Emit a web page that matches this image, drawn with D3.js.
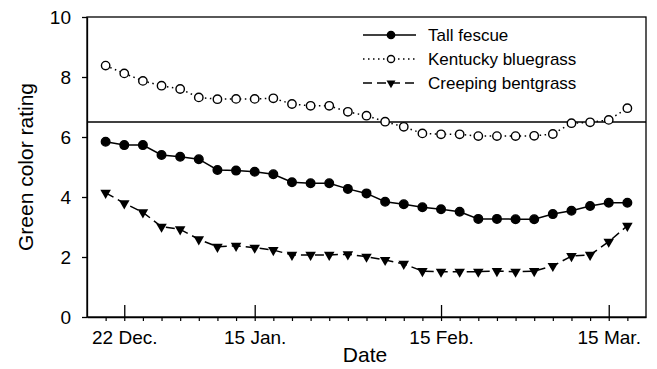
<!DOCTYPE html>
<html>
<head>
<meta charset="utf-8">
<script src="https://cdn.jsdelivr.net/npm/d3@7"></script>
<style>
  body { margin: 0; background: #fff; }
  text { font-family: "Liberation Sans", Arial, sans-serif; fill: #000; }
</style>
</head>
<body>
<svg width="657" height="369"></svg>
<script>
// sampling dates are evenly spaced, so x is just the sample index
const tickPos = [1, 8, 18, 27];
const tickLabels = ['22 Dec.', '15 Jan.', '15 Feb.', '15 Mar.'];
const yTicks = [0, 2, 4, 6, 8, 10];

const fescue = [5.84, 5.73, 5.73, 5.40, 5.34, 5.26, 4.90, 4.88, 4.84, 4.76, 4.49, 4.46, 4.46, 4.27, 4.12,
  3.84, 3.76, 3.66, 3.59, 3.51, 3.27, 3.27, 3.26, 3.26, 3.43, 3.54, 3.70, 3.81, 3.81];
const bluegrass = [8.38, 8.12, 7.87, 7.71, 7.60, 7.32, 7.26, 7.27, 7.27, 7.29, 7.10, 7.04, 7.04, 6.84, 6.71,
  6.51, 6.34, 6.12, 6.09, 6.09, 6.03, 6.03, 6.03, 6.04, 6.10, 6.46, 6.49, 6.57, 6.96];
const bentgrass = [4.14, 3.79, 3.49, 3.01, 2.92, 2.59, 2.34, 2.37, 2.31, 2.23, 2.07, 2.07, 2.07, 2.09, 2.01,
  1.90, 1.77, 1.53, 1.51, 1.51, 1.51, 1.53, 1.51, 1.53, 1.70, 2.03, 2.07, 2.51, 3.04];
const threshold = 6.5;

const series = [
  { name: 'Tall fescue', values: fescue, dash: null, marker: 'dot' },
  { name: 'Kentucky bluegrass', values: bluegrass, dash: '1.5,3.5', marker: 'open' },
  { name: 'Creeping bentgrass', values: bentgrass, dash: '9,5', marker: 'tri' }
];

const svg = d3.select('svg');
const x = d3.scaleLinear().domain([-1, 29]).range([87, 646]);
const y = d3.scaleLinear().domain([0, 10]).range([317, 17]);

// frame
svg.append('rect')
  .attr('x', x(-1)).attr('y', y(10))
  .attr('width', x(29) - x(-1)).attr('height', y(0) - y(10))
  .attr('fill', 'none').attr('stroke', '#000').attr('stroke-width', 1.3);

// reference line
svg.append('line')
  .attr('x1', x(-1)).attr('x2', x(29))
  .attr('y1', y(threshold)).attr('y2', y(threshold))
  .attr('stroke', '#000').attr('stroke-width', 1.3);

// minor ticks at every sample
svg.append('g')
  .attr('transform', `translate(0,${y(0)})`)
  .call(d3.axisBottom(x).tickValues(fescue.map((d, i) => i)).tickSize(4).tickFormat(''))
  .call(g => g.select('.domain').remove())
  .selectAll('line').attr('stroke-width', 1.2);

// major ticks + labels
const xAxis = svg.append('g')
  .attr('transform', `translate(0,${y(0)})`)
  .call(d3.axisBottom(x).tickValues(tickPos).tickSizeInner(-12).tickSizeOuter(0).tickPadding(14)
    .tickFormat((d, i) => tickLabels[i]));
xAxis.select('.domain').attr('stroke-width', 1.3);
xAxis.selectAll('line').attr('stroke-width', 1.3);
xAxis.selectAll('text').attr('font-size', 19).attr('font-family', '"Liberation Sans", Arial, sans-serif');

const yAxis = svg.append('g')
  .attr('transform', `translate(${x(-1)},0)`)
  .call(d3.axisLeft(y).tickValues(yTicks).tickSize(5).tickSizeOuter(0).tickPadding(11));
yAxis.select('.domain').attr('stroke-width', 1.3);
yAxis.selectAll('line').attr('stroke-width', 1.3);
yAxis.selectAll('text').attr('font-size', 19).attr('font-family', '"Liberation Sans", Arial, sans-serif');

svg.append('text')
  .attr('x', 365).attr('y', 362)
  .attr('text-anchor', 'middle').attr('font-size', 21)
  .text('Date');

svg.append('text')
  .attr('transform', 'translate(33,167) rotate(-90)')
  .attr('text-anchor', 'middle').attr('font-size', 21)
  .text('Green color rating');

const line = d3.line().x((d, i) => x(i)).y(d => y(d));
const tri = d3.symbol().type(d3.symbolTriangle);

function drawMarker(g, type, cx, cy, k = 1) {
  if (type === 'tri') {
    g.append('path').attr('d', tri.size(48 * k * k)())
      .attr('transform', `translate(${cx},${cy}) rotate(180)`)
      .attr('fill', '#000');
  } else {
    g.append('circle').attr('cx', cx).attr('cy', cy)
      .attr('r', (type === 'dot' ? 4.3 : 4.2) * k)
      .attr('fill', type === 'dot' ? '#000' : '#fff')
      .attr('stroke', '#000').attr('stroke-width', 1.4);
  }
}

series.forEach(s => {
  svg.append('path')
    .attr('d', line(s.values))
    .attr('fill', 'none').attr('stroke', '#000').attr('stroke-width', 1.5)
    .attr('stroke-dasharray', s.dash);
  const g = svg.append('g');
  s.values.forEach((v, i) => drawMarker(g, s.marker, x(i), y(v)));
});

// legend
const legend = svg.append('g');
series.forEach((s, i) => {
  const ly = 35 + i * 24;
  legend.append('line')
    .attr('x1', 363).attr('x2', 416).attr('y1', ly).attr('y2', ly)
    .attr('stroke', '#000').attr('stroke-width', 1.5)
    .attr('stroke-dasharray', s.dash);
  drawMarker(legend, s.marker, 391, ly, 0.85);
  legend.append('text')
    .attr('x', 428).attr('y', ly + 6)
    .attr('font-size', 17)
    .text(s.name);
});
</script>
</body>
</html>
